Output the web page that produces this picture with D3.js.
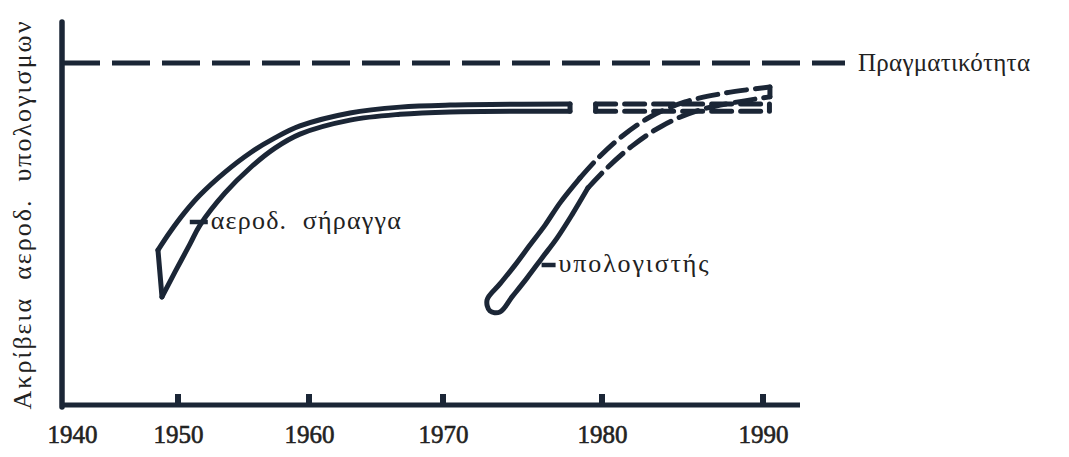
<!DOCTYPE html>
<html><head><meta charset="utf-8">
<script src="https://cdn.jsdelivr.net/npm/d3@7"></script>
<style>body{margin:0;background:#fff}svg{display:block}</style>
</head><body>
<script>
// ---- data ----
const years = [1940, 1950, 1960, 1970, 1980, 1990];
const tickLabels = ["1940", "1950", "1960", "1970", "1980", "1990"];
const yLabel = "Ακρίβεια  αεροδ.  υπολογισμων";
const realityLabel = "Πραγματικότητα";
const realityValue = 1;
const tunnelLabel = "αεροδ.  σήραγγα";
const computerLabel = "υπολογιστής";
// wind tunnel band (solid)
const tunnelOuterYears = [1948.11, 1949.25, 1950.53, 1951.68, 1953.59, 1955.50, 1957.40, 1959.31, 1963.06, 1966.79, 1970.44, 1977.99];
const tunnelOuterVals  = [0.453, 0.506, 0.564, 0.614, 0.681, 0.737, 0.781, 0.816, 0.854, 0.871, 0.877, 0.880];
const tunnelInnerYears = [1948.49, 1949.72, 1950.92, 1951.68, 1953.59, 1955.50, 1957.40, 1959.31, 1963.06, 1966.79, 1970.44, 1977.99];
const tunnelInnerVals  = [0.316, 0.389, 0.471, 0.526, 0.620, 0.693, 0.751, 0.792, 0.833, 0.850, 0.857, 0.859];
// wind tunnel extension (dashed)
const tunnelExtYears = [1979.6, 1990.4];
const tunnelExtOuter = [0.880, 0.880];
const tunnelExtInner = [0.859, 0.859];
// computer band (solid part)
const compOuterYears = [1972.77, 1973.58, 1974.53, 1975.47, 1976.42, 1977.36, 1978.62];
const compOuterVals  = [0.307, 0.354, 0.409, 0.468, 0.526, 0.591, 0.664];
const compTipYear = 1972.95, compTipVal = 0.275;
const compInnerYears = [1973.58, 1974.34, 1975.28, 1976.23, 1977.17, 1978.11, 1979.12];
const compInnerVals  = [0.272, 0.316, 0.371, 0.430, 0.488, 0.556, 0.635];
// computer band (dashed part)
const compDashOuterYears = [1978.62, 1979.69, 1981.12, 1982.98, 1985.16, 1987.64, 1990.43];
const compDashOuterVals  = [0.664, 0.719, 0.781, 0.842, 0.886, 0.912, 0.930];
const compDashInnerYears = [1979.12, 1980.31, 1981.86, 1983.73, 1986.09, 1990.43];
const compDashInnerVals  = [0.635, 0.693, 0.757, 0.816, 0.863, 0.901];

// ---- layout ----
const W = 1069, H = 457;
const axisLeft = 62, axisRight = 800, axisBottomY = 405, axisTopY = 22, realityRight = 845;
const ink = "#1b2636";
const serif = "'Liberation Serif','DejaVu Serif',serif";
const bandWidth = 5;

const x = d3.scaleLinear().domain(years).range([72, 178, 309, 443, 602, 763]);
const y = d3.scaleLinear().domain([0, 1]).range([axisBottomY, 63]);

const svg = d3.select("body").append("svg").attr("width", W).attr("height", H);

// axes lines
svg.append("line").attr("x1", axisLeft).attr("x2", axisLeft).attr("y1", axisTopY).attr("y2", axisBottomY + 2)
  .attr("stroke", ink).attr("stroke-width", 5.5).attr("stroke-linecap", "round");
svg.append("line").attr("x1", axisLeft).attr("x2", axisRight).attr("y1", axisBottomY).attr("y2", axisBottomY)
  .attr("stroke", ink).attr("stroke-width", 5);

// x axis labels via d3 axis
const xAxis = d3.axisBottom(x).tickValues(years).tickFormat((d, i) => tickLabels[i]).tickSize(0).tickPadding(30);
const gx = svg.append("g").attr("transform", `translate(0,${axisBottomY})`).call(xAxis);
gx.select(".domain").remove();
gx.selectAll("text").attr("font-family", serif).attr("font-size", 25).attr("fill", "#222")
  .attr("stroke", "#222").attr("stroke-width", 0.6).attr("dy", "0.32em");
// tick bumps
svg.append("g").selectAll("rect").data(years.slice(1)).join("rect")
  .attr("x", d => x(d) - 3).attr("y", axisBottomY - 11).attr("width", 6).attr("height", 11).attr("fill", ink);

// y label
svg.append("text").attr("transform", `translate(31,${(axisTopY + axisBottomY) / 2 + 2}) rotate(-90)`)
  .attr("text-anchor", "middle").attr("font-family", serif).attr("font-size", 26).attr("fill", "#222")
  .attr("textLength", 388).attr("lengthAdjust", "spacing")
  .style("white-space", "pre").text(yLabel);

// reality line
svg.append("line").attr("x1", axisLeft).attr("x2", realityRight).attr("y1", y(realityValue)).attr("y2", y(realityValue))
  .attr("stroke", ink).attr("stroke-width", 5).attr("stroke-dasharray", "38,12");
svg.append("text").attr("x", 858).attr("y", y(realityValue) + 8).attr("font-family", serif).attr("font-size", 25)
  .attr("fill", "#222").attr("textLength", 172).attr("lengthAdjust", "spacing").text(realityLabel);

const curve = d3.line().x(d => x(d[0])).y(d => y(d[1])).curve(d3.curveCatmullRom.alpha(0.5));
const zip = (a, b) => a.map((v, i) => [v, b[i]]);
const seg = (a, b) => d3.line()([[x(a[0]), y(a[1])], [x(b[0]), y(b[1])]]);

function group(dashed) {
  const g = svg.append("g").attr("fill", "none").attr("stroke", ink).attr("stroke-width", bandWidth)
    .attr("stroke-linecap", "round").attr("stroke-linejoin", "round");
  if (dashed) g.attr("stroke-dasharray", "20,9");
  return g;
}

// wind tunnel solid band
{
  const o = zip(tunnelOuterYears, tunnelOuterVals), inn = zip(tunnelInnerYears, tunnelInnerVals);
  const g = group(false);
  g.append("path").attr("d", curve(o));
  g.append("path").attr("d", curve(inn));
  g.append("path").attr("d", seg(o[0], inn[0]));
  g.append("path").attr("d", seg(o[o.length - 1], inn[inn.length - 1]));
}
// wind tunnel dashed extension
{
  const o = zip(tunnelExtYears, tunnelExtOuter), inn = zip(tunnelExtYears, tunnelExtInner);
  const g = group(true);
  g.append("path").attr("d", curve(o));
  g.append("path").attr("d", curve(inn));
  const g2 = group(false);
  g2.append("path").attr("d", seg(o[0], inn[0]));
  g2.append("path").attr("d", seg(o[o.length - 1], inn[inn.length - 1]));
}
// computer solid band (rounded bottom)
{
  const pts = zip(compOuterYears, compOuterVals).reverse()
    .concat([[compTipYear, compTipVal]])
    .concat(zip(compInnerYears, compInnerVals));
  group(false).append("path").attr("d", curve(pts));
}
// computer dashed band
{
  const o = zip(compDashOuterYears, compDashOuterVals), inn = zip(compDashInnerYears, compDashInnerVals);
  const g = group(true);
  g.append("path").attr("d", curve(o));
  g.append("path").attr("d", curve(inn));
  group(false).append("path").attr("d", seg(o[o.length - 1], inn[inn.length - 1]));
}

// labels with leaders
function label(txt, yr, v, len, tl) {
  const px = x(yr), py = y(v);
  svg.append("line").attr("x1", px).attr("x2", px + len).attr("y1", py).attr("y2", py)
    .attr("stroke", ink).attr("stroke-width", 4.5);
  svg.append("text").attr("x", px + len + 3).attr("y", py + 7).attr("font-family", serif).attr("font-size", 26)
    .attr("fill", "#222").attr("textLength", tl).attr("lengthAdjust", "spacing")
    .style("white-space", "pre").text(txt);
}
label(tunnelLabel, 1950.9, (405 - 222) / 342, 18, 190);
label(computerLabel, 1976.2, (405 - 265) / 342, 14, 150);
</script>
</body></html>
